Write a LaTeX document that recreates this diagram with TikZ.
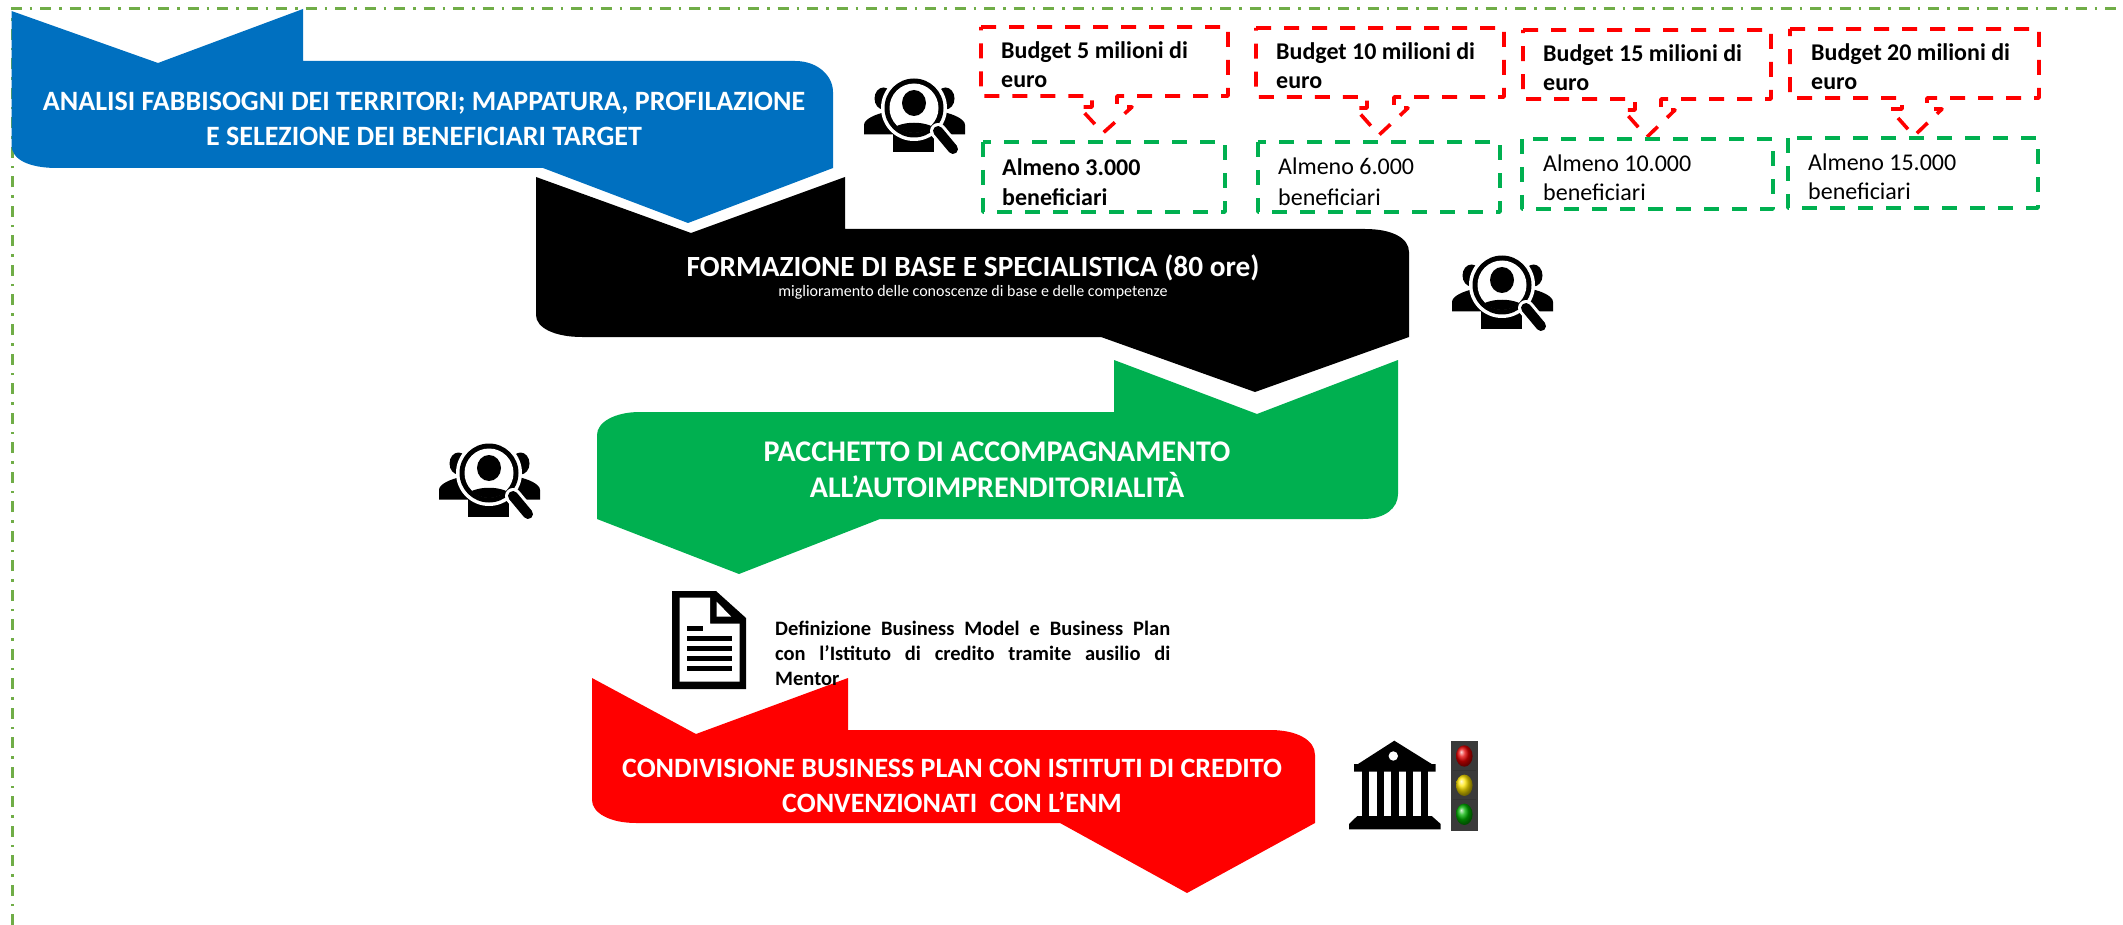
\documentclass[tikz,border=0pt]{standalone}
\usepackage{fontspec}
\setmainfont{Carlito}
\usepackage{tikz}
\usetikzlibrary{positioning,%
  calc,%
  shapes.geometric
}
\definecolor{enmblue}{HTML}{0070C0}
\definecolor{enmgreen}{HTML}{00B050}
\definecolor{enmframe}{HTML}{70AD47}
\definecolor{enmred}{HTML}{FF0000}
\definecolor{lampcase}{HTML}{3A3A3A}

\tikzset{usericon/.pic={
    % people behind the lens
    \fill (-30.5,-9.5) circle [x radius=9,y radius=11];
    \fill (31.5,-9.5) circle [x radius=9,y radius=11];
    \fill (-50,26.5) -- (-50,17) .. controls (-50,11) and (-38,6) .. (-28,4) -- (-15,26.5) -- cycle;
    \fill (51,26.5) -- (51,17) .. controls (51,11) and (39,6) .. (29,4) -- (15,26.5) -- cycle;
    \fill (-21,22) rectangle (20,44);
    % lens
    \fill[white] (0,0) circle [radius=33];
    \fill (0,0) circle [radius=29.5];
    \fill[white] (0,0) circle [radius=24.5];
    \fill (0,-5) circle [x radius=12,y radius=13];
    \begin{scope}
      \clip (0,0) circle [radius=25];
      \fill (-25,23) .. controls (-14,12) and (14,12) .. (25,23) -- (25,30) -- (-25,30) -- cycle;
    \end{scope}
    % handle
    \draw[white,line width=16pt,line cap=round] (24,23) -- (39,41);
    \draw[line width=10pt,line cap=round] (24,23) -- (39,41);
}}

\begin{document}
\begin{tikzpicture}
    [x=1pt,y=-1pt,
    frameline/.style={draw=enmframe,line width=2.5pt,dash pattern=on 11pt off 8pt on 2.5pt off 8pt},
    budget/.style={draw=enmred,line width=3.6pt,dash pattern=on 15pt off 13pt,line join=round},
    target/.style={draw=enmgreen,line width=3.6pt,dash pattern=on 15pt off 13pt,line join=round},
    title/.style={text=white,align=center,anchor=base,font=\fontsize{28}{35}\selectfont\bfseries},
    budgettext/.style={anchor=base west,inner sep=0pt,align=left,font=\fontsize{24}{29}\selectfont\bfseries},
    targettext/.style={anchor=base west,inner sep=0pt,align=left,font=\fontsize{24}{29}\selectfont}]

    \useasboundingbox (0,0) rectangle (2123,925);

    % dash-dot frame
    \draw[frameline] (12.5,925) -- (12.5,8.5) -- (2123,8.5);

    % the four down arrows
    \fill[enmblue] (11.5,11) -- (158,63) -- (303,9) -- (303,61) -- (795,61)
        .. controls (818,61) and (833,76) .. (833,92) -- (833,168) -- (688,223) -- (543,168) -- (57,168)
        .. controls (30,168) and (11.5,160) .. (11.5,145) -- cycle;
    \fill[black] (536,177) -- (691,233) -- (845,177) -- (845,229) -- (1365,229)
        .. controls (1392,229) and (1409,238) .. (1409,252) -- (1409,337) -- (1255,392) -- (1101,337) -- (582,337)
        .. controls (555,337) and (536,328) .. (536,315) -- cycle;
    \fill[enmgreen] (597,435) .. controls (597,422) and (615,412) .. (640,412) -- (1114,412) -- (1114,360)
        -- (1257,414) -- (1398,360) -- (1398,494) .. controls (1398,508) and (1385,519) .. (1363,519)
        -- (880,519) -- (739,574) -- (597,519) -- cycle;
    \fill[enmred] (592,678) -- (696,734) -- (848,678) -- (848,730) -- (1270,730)
        .. controls (1297,730) and (1315,740) .. (1315,755) -- (1315,823) -- (1187,893) -- (1060,823) -- (636,823)
        .. controls (610,823) and (592,813) .. (592,800) -- cycle;

    \node[title] at (424,145.5) (analisi)
        {ANALISI FABBISOGNI DEI TERRITORI; MAPPATURA, PROFILAZIONE\\E SELEZIONE DEI BENEFICIARI TARGET};
    \node[title,font=\fontsize{29.3}{35}\selectfont\bfseries] at (973,277) (formazione)
        {FORMAZIONE DI BASE E SPECIALISTICA (80 ore)};
    \node[text=white,anchor=base,font=\fontsize{16}{18}\selectfont] at (973,297) (formazionesub)
        {miglioramento delle conoscenze di base e delle competenze};
    \node[title,font=\fontsize{30}{36}\selectfont\bfseries] at (997,497) (pacchetto)
        {PACCHETTO DI ACCOMPAGNAMENTO\\ALL’AUTOIMPRENDITORIALITÀ};
    \node[title] at (952,812) (condivisione)
        {CONDIVISIONE BUSINESS PLAN CON ISTITUTI DI CREDITO\\CONVENZIONATI\ \ CON L’ENM};

    % budget callouts
    \draw[budget] (981,27) -- (1228,27) -- (1228,96) -- (1117,96) -- (1117,107) -- (1132,107) -- (1103,133)
        -- (1079,107) -- (1092,107) -- (1092,96) -- (981,96) -- cycle;
    \draw[budget] (1256,28) -- (1504,28) -- (1504,97) -- (1394,97) -- (1394,108) -- (1408,108) -- (1379,135)
        -- (1355,108) -- (1367,108) -- (1367,97) -- (1256,97) -- cycle;
    \draw[budget] (1523,30) -- (1771,30) -- (1771,99) -- (1661,99) -- (1661,110) -- (1675,110) -- (1647,137)
        -- (1623,110) -- (1635,110) -- (1635,99) -- (1523,99) -- cycle;
    \draw[budget] (1790,29) -- (2039,29) -- (2039,98) -- (1927,98) -- (1927,109) -- (1942,109) -- (1914,136)
        -- (1890,109) -- (1902,109) -- (1902,98) -- (1790,98) -- cycle;

    \node[budgettext] at (1001,88) (budgeta) {Budget 5 milioni di\\euro};
    \node[budgettext] at (1276,89) (budgetb) {Budget 10 milioni di\\euro};
    \node[budgettext] at (1543,91) (budgetc) {Budget 15 milioni di\\euro};
    \node[budgettext] at (1811,90) (budgetd) {Budget 20 milioni di\\euro};

    % target boxes
    \draw[target] (983,142) rectangle (1225,212);
    \draw[target] (1258,142) rectangle (1500,212);
    \draw[target] (1522,139) rectangle (1773,209);
    \draw[target] (1788,138) rectangle (2038,208);

    \node[targettext,font=\fontsize{24}{30}\selectfont\bfseries] at (1002,206) (targeta) {Almeno 3.000\\beneficiari};
    \node[targettext,font=\fontsize{24}{31}\selectfont] at (1278,206) (targetb) {Almeno 6.000\\beneficiari};
    \node[targettext] at (1543,201) (targetc) {Almeno 10.000\\beneficiari};
    \node[targettext] at (1808,200) (targetd) {Almeno 15.000\\beneficiari};

    % people and magnifier icons
    \pic (iconanalisi) at (914,108) {usericon};
    \pic (iconformazione) at (1502,285) {usericon};
    \pic (iconpacchetto) at (489,473) {usericon};

    % document icon
    \fill (672,591) -- (716,591) -- (746,618) -- (746,689) -- (672,689) -- cycle;
    \fill[white] (679.5,597.5) -- (710,597.5) -- (710,623.5) -- (739.5,623.5) -- (739.5,681.5) -- (679.5,681.5) -- cycle;
    \fill[white] (716.5,601.5) -- (731,616.5) -- (716.5,616.5) -- cycle;
    \fill (686.5,626) rectangle (702.5,631);
    \fill (686.5,636) rectangle (732,641);
    \fill (686.5,646) rectangle (732,651);
    \fill (686.5,656) rectangle (732,661);
    \fill (686.5,666) rectangle (732,671);

    \node[anchor=base west,inner sep=0pt,text width=395pt,align=justify,font=\fontsize{20.5}{25}\selectfont\bfseries] at (775,635) (definizione)
        {Definizione Business Model e Business Plan\linebreak con l’Istituto di credito tramite ausilio di\linebreak Mentor};

    % bank icon
    \fill (1394.3,740.7) -- (1431.7,764) -- (1435.7,764) -- (1435.7,771.7) -- (1354,771.7) -- (1354,764) -- (1358,764) -- cycle;
    \fill[white] (1393.3,756) circle [radius=4.7];
    \fill (1362.3,771) rectangle (1369.3,817);
    \fill (1376.7,771) rectangle (1384,817);
    \fill (1391.3,771) rectangle (1398.7,817);
    \fill (1405.7,771) rectangle (1412.7,817);
    \fill (1420.7,771) rectangle (1427.7,817);
    \fill (1357.3,816) -- (1431.7,816) -- (1440.7,824) -- (1440.7,829.3) -- (1349,829.3) -- (1349,824) -- cycle;

    % traffic light
    \fill[lampcase] (1451,741) rectangle (1477.5,830.5);
    \fill[black!80] (1453,770) rectangle (1475.5,771);
    \fill[black!80] (1453,799) rectangle (1475.5,800);
    \shade[ball color=red!90!black] (1464.3,756) circle [x radius=8.3,y radius=10.7];
    \shade[ball color=yellow!80!orange] (1464.3,785.3) circle [x radius=8.3,y radius=10.7];
    \shade[ball color=green!70!black] (1464.3,814.3) circle [x radius=8.3,y radius=10.7];
\end{tikzpicture}
\end{document}
